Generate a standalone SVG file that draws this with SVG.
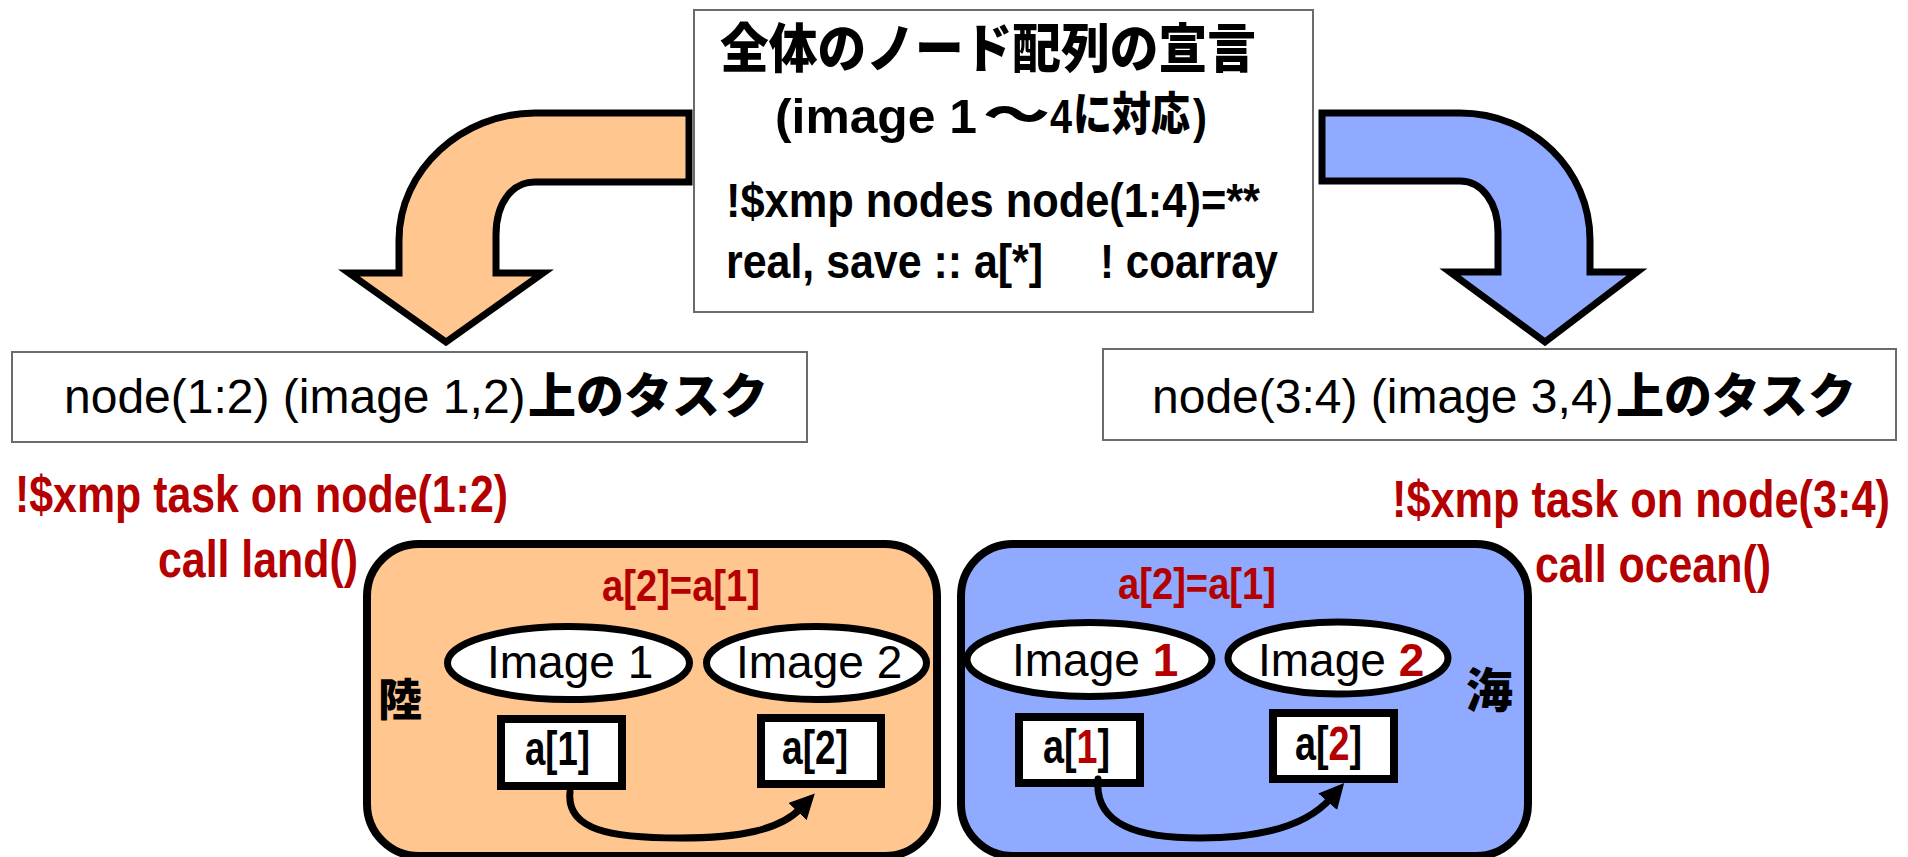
<svg xmlns="http://www.w3.org/2000/svg" width="1908" height="857" viewBox="0 0 1908 857">
<defs>
<style>
.box{fill:#fff;stroke:#6b6b6b;stroke-width:2}
.big{stroke:#000;stroke-width:7;stroke-linejoin:miter;stroke-miterlimit:10}
.panel{stroke:#000;stroke-width:8}
.ell{fill:#fff;stroke:#000;stroke-width:7}
.cell{fill:#fff;stroke:#000;stroke-width:8}
.lat{font-family:"Liberation Sans",Arial,sans-serif}
.nar{font-family:"Liberation Sans Narrow","Liberation Sans",Arial,sans-serif;font-weight:bold}
.b{font-weight:bold}
.jp{font-family:"Noto Sans CJK JP","Noto Sans CJK SC",sans-serif;font-weight:900}
.red{fill:#b40000}
.link{fill:none;stroke:#000;stroke-width:7;stroke-linecap:round}
</style>
<marker id="ah" viewBox="0 0 10 10" refX="2" refY="5" markerUnits="userSpaceOnUse" markerWidth="25" markerHeight="25" orient="auto">
<path d="M0,0 L10,5 L0,10 z" fill="#000"/>
</marker>
</defs>
<rect width="1908" height="857" fill="#fff"/>

<g id="connectors">
<path id="arrow-left" class="big" fill="#FFC68F" d="M689,113 L535,113 C462,113 399,170 399,240 L399,273 L349,273 L446,342 L543,273 L496,273 L496,235 C496,203 512,182 535,182 L689,182 Z"/>
<path id="arrow-right" class="big" fill="#8FAAFF" d="M1322,113 L1460,113 C1532,113 1590,170 1590,240 L1590,272 L1637,272 L1545,342 L1450,272 L1498,272 L1498,232 C1498,203 1482,181 1460,181 L1322,181 Z"/>
</g>

<g id="decl">
<rect class="box" x="694" y="10" width="619" height="302"/>
<text class="jp" x="720" y="68" font-size="53" textLength="536" lengthAdjust="spacingAndGlyphs">全体のノード配列の宣言</text>
<text class="nar" x="775" y="133" font-size="48" textLength="202" lengthAdjust="spacingAndGlyphs">(image 1</text>
<text class="jp" x="983" y="131" font-size="46" textLength="67" lengthAdjust="spacingAndGlyphs">～</text>
<text class="nar" x="1050" y="133" font-size="48" textLength="22" lengthAdjust="spacingAndGlyphs">4</text>
<text class="jp" x="1073" y="130" font-size="46" textLength="117" lengthAdjust="spacingAndGlyphs">に対応</text>
<text class="nar" x="1193" y="133" font-size="48" textLength="14" lengthAdjust="spacingAndGlyphs">)</text>
<text class="nar" x="726" y="217" font-size="48" textLength="534" lengthAdjust="spacingAndGlyphs">!$xmp nodes node(1:4)=**</text>
<text class="nar" x="726" y="278" font-size="48" textLength="317" lengthAdjust="spacingAndGlyphs">real, save :: a[*]</text>
<text class="nar" x="1100" y="278" font-size="48" textLength="178" lengthAdjust="spacingAndGlyphs">! coarray</text>
</g>

<g id="task-left">
<rect class="box" x="12" y="352" width="795" height="90"/>
<text class="lat" x="64" y="413" font-size="48">node(1:2) (image 1,2)</text>
<text class="jp" x="528" y="413" font-size="48" font-weight="bold">上のタスク</text>
</g>

<g id="task-right">
<rect class="box" x="1103" y="349" width="793" height="91"/>
<text class="lat" x="1152" y="413" font-size="48">node(3:4) (image 3,4)</text>
<text class="jp" x="1616" y="413" font-size="48" font-weight="bold">上のタスク</text>
</g>

<g id="code-left">
<text class="nar red" x="15" y="512" font-size="52" textLength="493" lengthAdjust="spacingAndGlyphs">!$xmp task on node(1:2)</text>
<text class="nar red" x="158" y="577" font-size="52" textLength="200" lengthAdjust="spacingAndGlyphs">call land()</text>
</g>

<g id="code-right">
<text class="nar red" x="1392" y="517" font-size="52" textLength="498" lengthAdjust="spacingAndGlyphs">!$xmp task on node(3:4)</text>
<text class="nar red" x="1535" y="582" font-size="52" textLength="236" lengthAdjust="spacingAndGlyphs">call ocean()</text>
</g>

<g id="land">
<rect class="panel" x="367" y="544" width="570" height="312" rx="52" ry="52" fill="#FFC68F"/>
<text class="nar red" x="602" y="601" font-size="44" textLength="158" lengthAdjust="spacingAndGlyphs">a[2]=a[1]</text>
<text class="jp" x="378" y="716" font-size="44">陸</text>
<g id="land-image1">
<ellipse class="ell" cx="568.5" cy="663" rx="121" ry="36.5"/>
<text class="lat" x="487" y="678" font-size="46">Image 1</text>
</g>
<g id="land-image2">
<ellipse class="ell" cx="816.5" cy="663" rx="110" ry="36.5"/>
<text class="lat" x="736" y="678" font-size="46">Image 2</text>
</g>
<g id="land-a1">
<rect class="cell" x="501" y="719" width="121" height="67"/>
<text class="nar" x="525" y="765" font-size="48" textLength="65" lengthAdjust="spacingAndGlyphs">a[1]</text>
</g>
<g id="land-a2">
<rect class="cell" x="761" y="718" width="120" height="66"/>
<text class="nar" x="782" y="764" font-size="48" textLength="66" lengthAdjust="spacingAndGlyphs">a[2]</text>
</g>
</g>

<g id="ocean">
<rect class="panel" x="961" y="544" width="567" height="312" rx="52" ry="52" fill="#8FAAFF"/>
<text class="nar red" x="1118" y="599" font-size="44" textLength="158" lengthAdjust="spacingAndGlyphs">a[2]=a[1]</text>
<text class="jp" x="1466" y="707" font-size="47">海</text>
<g id="ocean-image1">
<ellipse class="ell" cx="1089.5" cy="659.5" rx="122.5" ry="37"/>
<text class="lat" x="1012" y="676" font-size="46">Image <tspan class="b red">1</tspan></text>
</g>
<g id="ocean-image2">
<ellipse class="ell" cx="1338" cy="658" rx="110" ry="36"/>
<text class="lat" x="1258" y="676" font-size="46">Image <tspan class="b red">2</tspan></text>
</g>
<g id="ocean-a1">
<rect class="cell" x="1019" y="717" width="121" height="66"/>
<text class="nar" x="1043" y="763" font-size="48" textLength="67" lengthAdjust="spacingAndGlyphs">a[<tspan class="red">1</tspan>]</text>
</g>
<g id="ocean-a2">
<rect class="cell" x="1273" y="713" width="121" height="66"/>
<text class="nar" x="1295" y="760" font-size="48" textLength="67" lengthAdjust="spacingAndGlyphs">a[<tspan class="red">2</tspan>]</text>
</g>
</g>

<g id="copy-links">
<path class="link" marker-end="url(#ah)" d="M570,792 C566,830 610,838 680,838 C740,838 780,830 801,808"/>
<path class="link" marker-end="url(#ah)" d="M1098,779 C1094,826 1140,838 1200,838 C1270,838 1310,822 1331,798"/>
</g>
</svg>
